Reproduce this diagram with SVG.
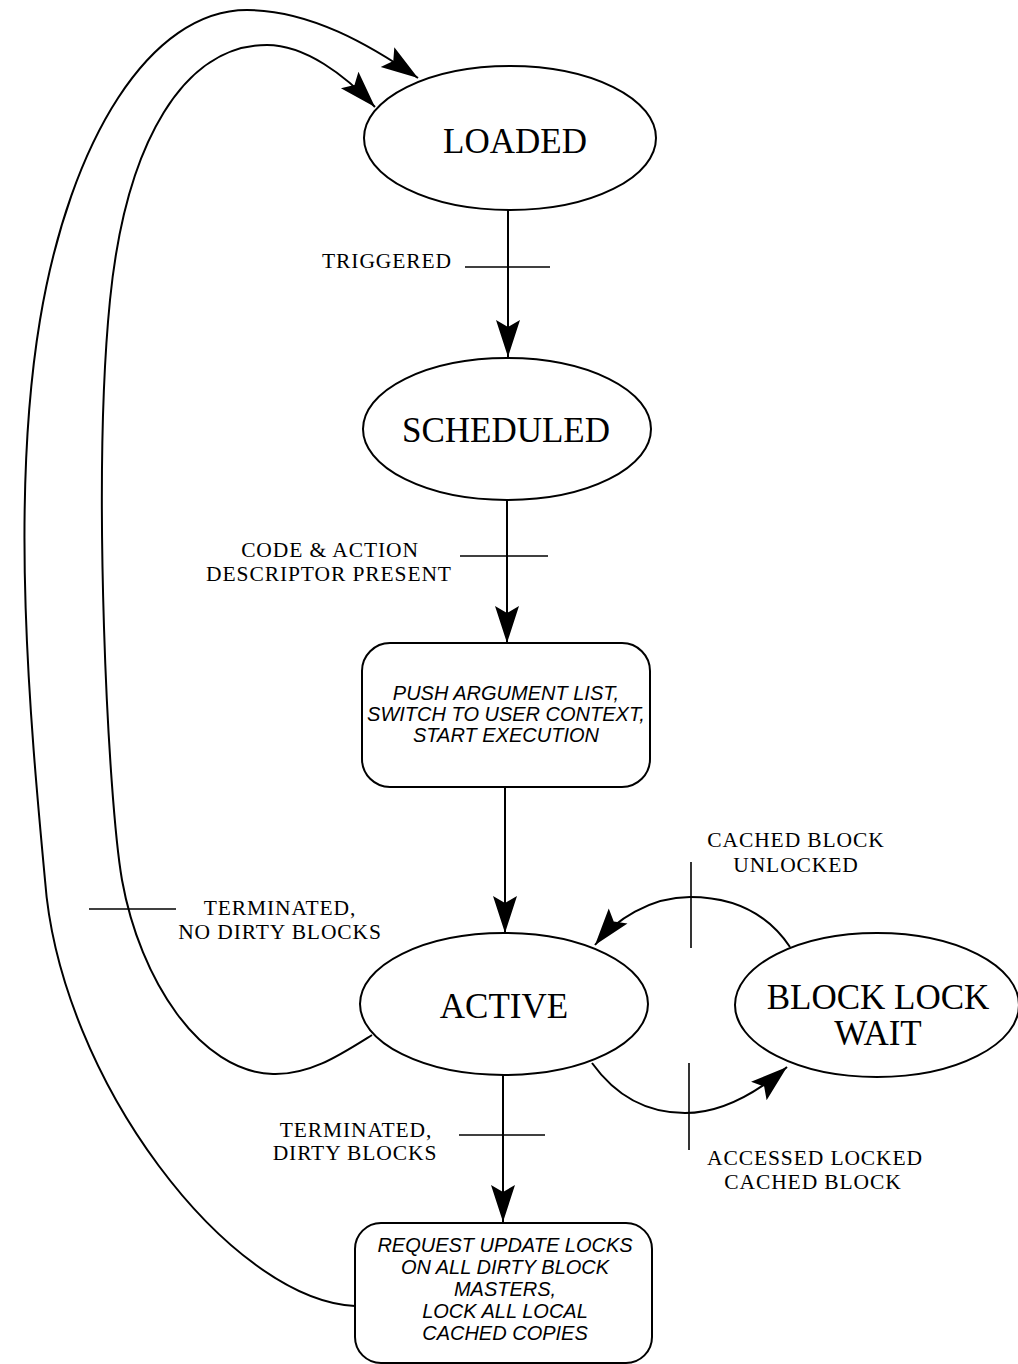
<svg xmlns="http://www.w3.org/2000/svg" width="1018" height="1364" viewBox="0 0 1018 1364">
  <style>
    .node { fill: #fff; stroke: #000; stroke-width: 2; }
    .edge { fill: none; stroke: #000; stroke-width: 2; }
    .tick { fill: none; stroke: #000; stroke-width: 1.6; }
    .state { font-family: "Liberation Serif", "Times New Roman", serif; font-size: 35px; fill: #000; text-anchor: middle; }
    .lbl { font-family: "Liberation Serif", "Times New Roman", serif; font-size: 21.5px; letter-spacing: 0.9px; fill: #000; text-anchor: middle; }
    .act { font-family: "Liberation Sans", Arial, sans-serif; font-style: italic; font-size: 20px; fill: #000; text-anchor: middle; }
  </style>
  <defs>
    <marker id="arrow" markerUnits="userSpaceOnUse" markerWidth="40" markerHeight="28" viewBox="-38 -14 40 28" refX="0" refY="0" orient="auto">
      <path d="M0,0 L-37,-12 L-30,0 L-37,12 Z" fill="#000"/>
    </marker>
  </defs>

  <rect width="1018" height="1364" fill="#fff"/>

  <!-- transitions -->
  <g id="connectors">
    <path class="edge" d="M508,210 L508,357" marker-end="url(#arrow)"/>
    <path class="edge" d="M507,500 L507,643" marker-end="url(#arrow)"/>
    <path class="edge" d="M505,787 L505,933" marker-end="url(#arrow)"/>
    <path class="edge" d="M503,1075 L503,1222" marker-end="url(#arrow)"/>
    <!-- update-lock box back to LOADED -->
    <path class="edge" d="M355,1306 C230,1300 60,1080 45,880 C30,720 10,500 40,320 C70,140 150,10 247,10 C310,10 370,45 418,78" marker-end="url(#arrow)"/>
    <!-- ACTIVE back to LOADED -->
    <path class="edge" d="M372,1035 C340,1055 310,1075 273,1074 C200,1072 140,980 122,880 C108,800 92,480 110,300 C126,140 185,45 267,45 C305,45 345,75 375,107" marker-end="url(#arrow)"/>
    <!-- BLOCK LOCK WAIT to ACTIVE -->
    <path class="edge" d="M790,947 C765,910 730,897 690,897 C650,897 615,920 595,945" marker-end="url(#arrow)"/>
    <!-- ACTIVE to BLOCK LOCK WAIT -->
    <path class="edge" d="M592,1063 C615,1095 645,1113 685,1113 C725,1113 760,1090 787,1067" marker-end="url(#arrow)"/>

    <!-- condition bars -->
    <line class="tick" x1="465" y1="267" x2="550" y2="267"/>
    <line class="tick" x1="460" y1="556" x2="548" y2="556"/>
    <line class="tick" x1="89" y1="909" x2="176" y2="909"/>
    <line class="tick" x1="459" y1="1135" x2="545" y2="1135"/>
    <line class="tick" x1="691" y1="862" x2="691" y2="948"/>
    <line class="tick" x1="689" y1="1063" x2="689" y2="1150"/>

    <!-- condition labels -->
    <text class="lbl" x="452" y="268" style="text-anchor:end">TRIGGERED</text>
    <text class="lbl" x="330" y="557">CODE &amp; ACTION</text>
    <text class="lbl" x="329" y="581">DESCRIPTOR PRESENT</text>
    <text class="lbl" x="280" y="915">TERMINATED,</text>
    <text class="lbl" x="280" y="939">NO DIRTY BLOCKS</text>
    <text class="lbl" x="356" y="1137">TERMINATED,</text>
    <text class="lbl" x="355" y="1160">DIRTY BLOCKS</text>
    <text class="lbl" x="796" y="847">CACHED BLOCK</text>
    <text class="lbl" x="796" y="872">UNLOCKED</text>
    <text class="lbl" x="815" y="1165">ACCESSED LOCKED</text>
    <text class="lbl" x="813" y="1189">CACHED BLOCK</text>
  </g>

  <g id="loaded">
    <ellipse class="node" cx="510" cy="138" rx="146" ry="72"/>
    <text class="state" x="515" y="153">LOADED</text>
  </g>

  <g id="scheduled">
    <ellipse class="node" cx="507" cy="429" rx="144" ry="71"/>
    <text class="state" x="506" y="442">SCHEDULED</text>
  </g>

  <g id="start-execution">
    <rect class="node" x="362" y="643" width="288" height="144" rx="28" ry="28"/>
    <text class="act" x="506" y="700">PUSH ARGUMENT LIST,</text>
    <text class="act" x="506" y="721">SWITCH TO USER CONTEXT,</text>
    <text class="act" x="506" y="742">START EXECUTION</text>
  </g>

  <g id="active">
    <ellipse class="node" cx="504" cy="1004" rx="144" ry="71"/>
    <text class="state" x="504" y="1018">ACTIVE</text>
  </g>

  <g id="block-lock-wait">
    <ellipse class="node" cx="877" cy="1005" rx="142" ry="72"/>
    <text class="state" x="878" y="1009">BLOCK LOCK</text>
    <text class="state" x="878" y="1045">WAIT</text>
  </g>

  <g id="request-locks">
    <rect class="node" x="355" y="1223" width="297" height="140" rx="26" ry="26"/>
    <text class="act" x="505" y="1252">REQUEST UPDATE LOCKS</text>
    <text class="act" x="505" y="1274">ON ALL DIRTY BLOCK</text>
    <text class="act" x="505" y="1296">MASTERS,</text>
    <text class="act" x="505" y="1318">LOCK ALL LOCAL</text>
    <text class="act" x="505" y="1340">CACHED COPIES</text>
  </g>
</svg>
